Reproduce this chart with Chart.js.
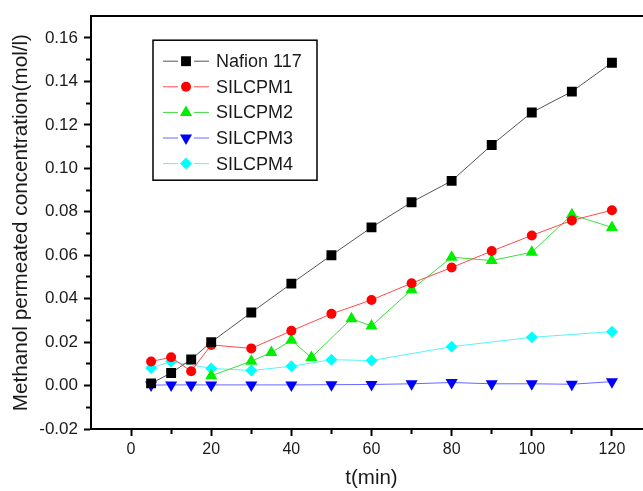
<!DOCTYPE html>
<html>
<head>
<meta charset="utf-8">
<script src="https://cdn.jsdelivr.net/npm/chart.js@4/dist/chart.umd.min.js"></script>
<style>
  html, body { margin: 0; padding: 0; background: #fff; overflow: hidden; }
  canvas { display: block; }
</style>
</head>
<body>
<canvas id="chart" width="660" height="491"></canvas>
<script>
// time points (min)
var tMain = [5, 10, 15, 20, 30, 40, 50, 60, 70, 80, 90, 100, 110, 120];
var tSil2 = [20, 30, 35, 40, 45, 55, 60, 70, 80, 90, 100, 110, 120];
var tSil4 = [5, 10, 20, 30, 40, 50, 60, 80, 100, 120];

// methanol permeated concentration (mol/l)
var nafion117 = [0.0010, 0.0058, 0.0120, 0.0200, 0.0336, 0.0469, 0.0600, 0.0728, 0.0844, 0.0942, 0.1107, 0.1257, 0.1353, 0.1486];
var silcpm1 = [0.0111, 0.0130, 0.0066, 0.0187, 0.0171, 0.0252, 0.0330, 0.0394, 0.0471, 0.0543, 0.0619, 0.0691, 0.0760, 0.0807];
var silcpm2 = [0.0045, 0.0112, 0.0152, 0.0208, 0.0129, 0.0308, 0.0274, 0.0441, 0.0591, 0.0575, 0.0614, 0.0786, 0.0728];
var silcpm3 = [0.0002, 0.0003, 0.0003, 0.0003, 0.0003, 0.0003, 0.0004, 0.0005, 0.0008, 0.0014, 0.0008, 0.0008, 0.0006, 0.0018];
var silcpm4 = [0.0081, 0.0111, 0.0079, 0.0069, 0.0089, 0.0119, 0.0115, 0.0179, 0.0222, 0.0248];

// axis ticks
var xMajor = [0, 20, 40, 60, 80, 100, 120];
var xMinor = [10, 30, 50, 70, 90, 110];
var yMajor = [-0.02, 0.00, 0.02, 0.04, 0.06, 0.08, 0.10, 0.12, 0.14, 0.16];
var yMinor = [-0.01, 0.01, 0.03, 0.05, 0.07, 0.09, 0.11, 0.13, 0.15];

var FONT = '"Liberation Sans", Arial, Helvetica, sans-serif';

function pts(xs, ys) {
  return xs.map(function (x, i) { return { x: x, y: ys[i] }; });
}

function isMinorX(v) { return xMinor.indexOf(v) >= 0; }
function isMinorY(v) { return yMinor.some(function (m) { return Math.abs(m - v) < 1e-9; }); }

var legendBox = {
  id: 'legendBox',
  afterDatasetsDraw: function (chart) {
    var ctx = chart.ctx;
    var a = chart.chartArea;
    var left = a.left + 62, top = a.top + 24;
    ctx.save();
    ctx.fillStyle = '#fff';
    ctx.fillRect(left, top, 164, 140);
    ctx.strokeStyle = '#000';
    ctx.lineWidth = 1.5;
    ctx.strokeRect(left, top, 164, 140);
    chart.data.datasets.forEach(function (ds, i) {
      var y = top + 21 + i * 25.6;
      ctx.strokeStyle = ds.borderColor;
      ctx.lineWidth = 1;
      ctx.beginPath();
      ctx.moveTo(left + 10, y); ctx.lineTo(left + 25, y);
      ctx.moveTo(left + 41, y); ctx.lineTo(left + 56, y);
      ctx.stroke();
      ctx.fillStyle = ds.pointBackgroundColor;
      ctx.strokeStyle = ds.pointBackgroundColor;
      Chart.helpers.drawPoint(ctx, {
        pointStyle: ds.pointStyle,
        radius: ds.pointRadius,
        rotation: ds.pointRotation || 0,
        borderWidth: 0
      }, left + 33, y);
      ctx.fillStyle = '#1a1a1a';
      ctx.font = '18px ' + FONT;
      ctx.textBaseline = 'middle';
      ctx.textAlign = 'left';
      ctx.fillText(ds.label, left + 63, y + 1);
    });
    ctx.restore();
  }
};

new Chart(document.getElementById('chart'), {
  type: 'scatter',
  data: {
    datasets: [
      { label: 'Nafion 117', data: pts(tMain, nafion117), showLine: true,
        borderColor: '#555555', borderWidth: 1, pointStyle: 'rect', pointRadius: 7,
        pointBackgroundColor: '#000000', pointBorderWidth: 0 },
      { label: 'SILCPM1', data: pts(tMain, silcpm1), showLine: true,
        borderColor: '#ff4a4a', borderWidth: 1, pointStyle: 'circle', pointRadius: 5,
        pointBackgroundColor: '#ff0000', pointBorderWidth: 0 },
      { label: 'SILCPM2', data: pts(tSil2, silcpm2), showLine: true,
        borderColor: '#3ddc3d', borderWidth: 1, pointStyle: 'triangle', pointRadius: 7,
        pointBackgroundColor: '#00ee00', pointBorderWidth: 0 },
      { label: 'SILCPM3', data: pts(tMain, silcpm3), showLine: true,
        borderColor: '#6666ff', borderWidth: 1, pointStyle: 'triangle', pointRotation: 180, pointRadius: 7,
        pointBackgroundColor: '#0000ff', pointBorderWidth: 0 },
      { label: 'SILCPM4', data: pts(tSil4, silcpm4), showLine: true,
        borderColor: '#55f5f5', borderWidth: 1, pointStyle: 'rectRot', pointRadius: 6,
        pointBackgroundColor: '#00ffff', pointBorderWidth: 0 }
    ]
  },
  options: {
    responsive: false,
    animation: false,
    layout: { padding: { top: 14, right: 8, bottom: 0, left: 0 } },
    plugins: { legend: { display: false }, tooltip: { enabled: false } },
    scales: {
      x: {
        type: 'linear', position: 'bottom', min: -10, max: 130,
        afterBuildTicks: function (s) {
          s.ticks = xMajor.concat(xMinor).sort(function (a, b) { return a - b; })
            .map(function (v) { return { value: v }; });
        },
        afterFit: function (s) { s.height = 62; },
        border: { display: true, color: '#000', width: 2 },
        grid: {
          display: true, drawOnChartArea: false, drawTicks: true,
          tickLength: 7, tickWidth: 2, tickColor: '#000',
          tickBorderDash: function (c) { return c.tick && isMinorX(c.tick.value) ? [4, 40] : []; }
        },
        ticks: {
          autoSkip: false, maxRotation: 0, padding: 4, color: '#1a1a1a',
          font: { family: FONT, size: 16 },
          callback: function (v) { return isMinorX(v) ? '' : String(v); }
        },
        title: { display: true, text: 't(min)', color: '#1a1a1a',
          font: { family: FONT, size: 20.5 }, padding: { top: 0, bottom: 0 } }
      },
      x2: {
        type: 'linear', position: 'top', min: -10, max: 130,
        afterFit: function (s) { s.height = 0; },
        border: { display: true, color: '#000', width: 2 },
        grid: { display: true, drawOnChartArea: false, drawTicks: false },
        ticks: { display: false }
      },
      y: {
        type: 'linear', position: 'left', min: -0.02, max: 0.17,
        afterBuildTicks: function (s) {
          s.ticks = yMajor.concat(yMinor).sort(function (a, b) { return a - b; })
            .map(function (v) { return { value: v }; });
        },
        afterFit: function (s) { s.width = 91; },
        border: { display: true, color: '#000', width: 2 },
        grid: {
          display: true, drawOnChartArea: false, drawTicks: true,
          tickLength: 7, tickWidth: 2, tickColor: '#000',
          tickBorderDash: function (c) { return c.tick && isMinorY(c.tick.value) ? [0, 2, 4, 40] : []; }
        },
        ticks: {
          autoSkip: false, padding: 6, color: '#1a1a1a',
          font: { family: FONT, size: 17 },
          callback: function (v) { return isMinorY(v) ? '' : v.toFixed(2); }
        },
        title: { display: true, text: 'Methanol permeated concentration(mol/l)', color: '#1a1a1a',
          font: { family: FONT, size: 20.7 }, padding: { top: 9, bottom: 0 } }
      }
    }
  },
  plugins: [legendBox]
});
</script>
</body>
</html>
